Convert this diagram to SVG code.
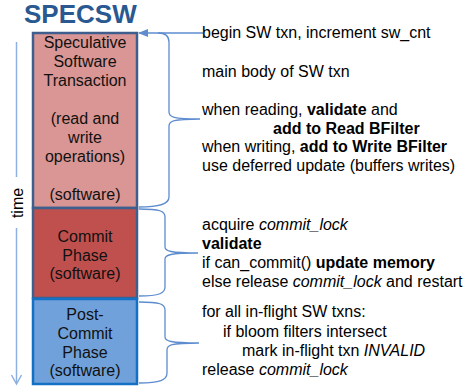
<svg xmlns="http://www.w3.org/2000/svg" width="466" height="387" viewBox="0 0 466 387">
<style>
.t{font-family:"Liberation Sans",Arial,sans-serif;font-size:16px;fill:#000}
.c{text-anchor:middle;fill:#111}
.b{font-weight:bold}
.i{font-style:italic}
.brace{fill:none;stroke:#5D8CCF;stroke-width:1.3}
</style>
<defs>
<marker id="ah" markerWidth="10" markerHeight="8" refX="9" refY="4" orient="auto" markerUnits="userSpaceOnUse">
<path d="M0,0 L10,4 L0,8 Z" fill="#5D8CCF"/>
</marker>
</defs>
<rect width="466" height="387" fill="#fff"/>
<text x="24" y="23" class="t b" style="font-size:26px;fill:#2A5890">SPECSW</text>

<g id="time">
<line x1="16.5" y1="42" x2="16.5" y2="177" stroke="#8DB0E0" stroke-width="1.5"/>
<line x1="16.5" y1="228" x2="16.5" y2="383" stroke="#8DB0E0" stroke-width="1.5"/>
<path d="M11.5,375 L16.5,384 L21.5,375" fill="none" stroke="#8DB0E0" stroke-width="1.5"/>
<text class="t" text-anchor="middle" transform="translate(22.5,203) rotate(-90)">time</text>
</g>

<g id="spec">
<rect x="33" y="33" width="104" height="175" fill="#D99694" stroke="#3E5F8E" stroke-width="2.5"/>
<text class="t c"><tspan x="85" y="48">Speculative</tspan><tspan x="85" y="67">Software</tspan><tspan x="85" y="86">Transaction</tspan><tspan x="85" y="124">(read and</tspan><tspan x="85" y="143">write</tspan><tspan x="85" y="162">operations)</tspan><tspan x="85" y="200">(software)</tspan></text>
</g>

<g id="commit">
<rect x="33" y="208" width="104" height="90" fill="#C0504D" stroke="#3E5F8E" stroke-width="2.5"/>
<text class="t c"><tspan x="85" y="242">Commit</tspan><tspan x="85" y="260.5">Phase</tspan><tspan x="85" y="279">(software)</tspan></text>
</g>

<g id="post">
<rect x="33" y="299" width="104" height="85" fill="#70A1DA" stroke="#1470C4" stroke-width="2.5"/>
<text class="t c"><tspan x="85" y="320">Post-</tspan><tspan x="85" y="339">Commit</tspan><tspan x="85" y="358">Phase</tspan><tspan x="85" y="376">(software)</tspan></text>
</g>

<g id="connectors">
<line x1="203" y1="33" x2="139" y2="33" stroke="#5D8CCF" stroke-width="1.3" marker-end="url(#ah)"/>
<path class="brace" d="M158,33 C166,33 169,36 169,42 L169,112 C169,117 173,119 200,119 M200,119 C173,119 169,121 169,126 L169,197 C169,204 160,207 139,207"/>
<path class="brace" d="M139,209 C160,209 165,211 165,217 L165,247 C165,251 170,253 198,253 M198,253 C170,253 165,255 165,259 L165,287 C165,293 160,296 139,296"/>
<path class="brace" d="M139,302 C160,302 165,304 165,310 L165,337 C165,341 170,343 199,343 M199,343 C170,343 167,345 167,350 L167,373 C167,380 160,383 139,383"/>
</g>

<g id="notes">
<text class="t" x="202" y="38">begin SW txn, increment sw_cnt</text>
<text class="t" x="202" y="77">main body of SW txn</text>
<text class="t" x="202" y="115">when reading, <tspan class="b">validate</tspan> and</text>
<text class="t b" x="273" y="133.5">add to Read BFilter</text>
<text class="t" x="202" y="152">when writing, <tspan class="b">add to Write BFilter</tspan></text>
<text class="t" x="202" y="170.5">use deferred update (buffers writes)</text>
<text class="t" x="202" y="230">acquire <tspan class="i">commit_lock</tspan></text>
<text class="t b" x="202" y="249">validate</text>
<text class="t" x="202" y="268">if can_commit() <tspan class="b">update memory</tspan></text>
<text class="t" x="202" y="287">else release <tspan class="i">commit_lock</tspan> and restart</text>
<text class="t" x="202" y="317">for all in-flight SW txns:</text>
<text class="t" x="223" y="337">if bloom filters intersect</text>
<text class="t" x="242" y="356">mark in-flight txn <tspan class="i">INVALID</tspan></text>
<text class="t" x="202" y="374.5">release <tspan class="i">commit_lock</tspan></text>
</g>
</svg>
